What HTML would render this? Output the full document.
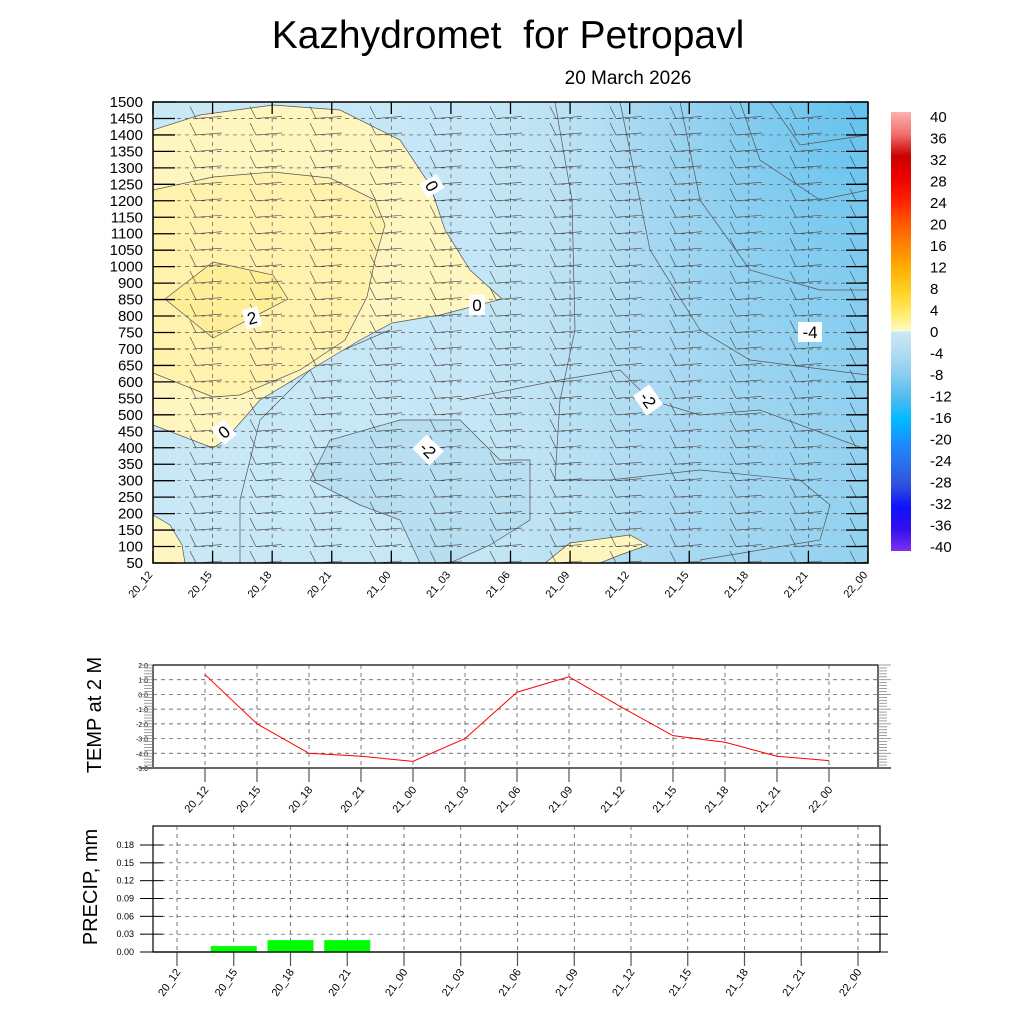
<!DOCTYPE html>
<html><head><meta charset="utf-8"><style>
body{margin:0;background:#fff;}
svg{display:block;font-family:"Liberation Sans",sans-serif;}
</style></head><body>
<svg id="chart" width="1024" height="1024" viewBox="0 0 1024 1024">
<text x="508" y="48" font-size="39" text-anchor="middle" xml:space="preserve" style="white-space:pre">Kazhydromet  for Petropavl</text>
<text x="628" y="84" font-size="19" text-anchor="middle">20 March 2026</text>
<defs>
<linearGradient id="blueg" x1="0" y1="0" x2="1" y2="0">
<stop offset="0" stop-color="#c6e7f6" stop-opacity="0"/>
<stop offset="0.45" stop-color="#c0e4f5" stop-opacity="0.5"/>
<stop offset="0.7" stop-color="#acdaf2"/>
<stop offset="1" stop-color="#92d1f0"/>
</linearGradient>
<radialGradient id="blueg2" cx="1" cy="0" r="0.75" gradientUnits="objectBoundingBox">
<stop offset="0" stop-color="#5fc0ee" stop-opacity="0.95"/>
<stop offset="1" stop-color="#7ccaef" stop-opacity="0"/>
</radialGradient>
<linearGradient id="cbar" x1="0" y1="0" x2="0" y2="1">
<stop offset="0" stop-color="#ffb0b0"/><stop offset="0.05" stop-color="#f07070"/>
<stop offset="0.1" stop-color="#cc0000"/><stop offset="0.15" stop-color="#ee0000"/>
<stop offset="0.2" stop-color="#ff2000"/><stop offset="0.25" stop-color="#ff5500"/>
<stop offset="0.3" stop-color="#ff8000"/><stop offset="0.35" stop-color="#ffaa00"/>
<stop offset="0.42" stop-color="#ffd830"/><stop offset="0.47" stop-color="#fff080"/>
<stop offset="0.5" stop-color="#fffad0"/><stop offset="0.5" stop-color="#cce8f5"/>
<stop offset="0.55" stop-color="#b0dcf0"/><stop offset="0.6" stop-color="#88ccf0"/>
<stop offset="0.65" stop-color="#50bbee"/><stop offset="0.7" stop-color="#00bbff"/>
<stop offset="0.75" stop-color="#1a90ff"/><stop offset="0.8" stop-color="#2a70ee"/>
<stop offset="0.85" stop-color="#3050dd"/><stop offset="0.9" stop-color="#1010ff"/>
<stop offset="0.95" stop-color="#3010ee"/><stop offset="1" stop-color="#8030f0"/>
</linearGradient>
<clipPath id="pclip"><rect x="153" y="102" width="715" height="461"/></clipPath>
</defs>
<g id="contour" clip-path="url(#pclip)">
<rect x="153" y="102" width="715" height="461" fill="#c8e8f6"/>
<rect x="153" y="102" width="715" height="461" fill="url(#blueg)"/>
<rect x="500" y="102" width="368" height="461" fill="url(#blueg2)"/>
<g fill="none" stroke="#555" stroke-width="0.7">
<polygon points="310,480 330,440 400,420 460,420 500,460 530,460 530,520 490,545 450,563 420,563 400,520 360,505" fill="#b8def2"/>
<polyline points="555,102 572,200 575,330 560,400 555,480 610,480 700,470 800,480 830,505 820,540 700,560"/>
<polyline points="620,102 650,250 700,330 750,360 868,375"/>
<polyline points="680,102 700,200 750,270 820,290 868,290"/>
<polyline points="770,102 800,145 868,135"/>
<polyline points="740,102 760,160 820,200 868,190"/>
<polyline points="460,400 560,380 620,370 650,400 700,415 760,410 868,450"/>
<polyline points="240,563 240,500 260,420 320,360 390,330"/>
</g>
<g stroke="#555" stroke-width="0.7">
<polygon points="153,130 200,115 273,105 340,110 400,140 430,185 445,230 470,270 502,299 440,315 392,323 360,340 310,370 260,400 225,440 213,448 153,425" fill="#fff6bf"/>
<polygon points="153,190 213,177 273,172 330,178 375,200 385,225 375,260 367,297 345,340 300,370 240,395 213,397 153,373" fill="#fff2ac"/>
<polygon points="165,299 213,262 273,275 288,299 213,338" fill="#ffee98"/>
<polygon points="153,515 170,525 182,545 185,563 153,563" fill="#fff6bf"/>
<polygon points="545,563 570,543 630,535 648,545 620,555 600,563" fill="#fff6bf"/>
</g>
<g id="grid"></g>
<g id="barbs"></g>
<g font-size="17" text-anchor="middle">
<g transform="translate(432,186) rotate(60)"><rect x="-8" y="-10" width="16" height="20" fill="#fff"/><text y="6">0</text></g>
<g transform="translate(477,305)"><rect x="-8" y="-10" width="16" height="20" fill="#fff"/><text y="6">0</text></g>
<g transform="translate(252,318) rotate(-15)"><rect x="-8" y="-10" width="16" height="20" fill="#fff"/><text y="6">2</text></g>
<g transform="translate(224,432) rotate(-40)"><rect x="-8" y="-10" width="16" height="20" fill="#fff"/><text y="6">0</text></g>
<g transform="translate(428,450) rotate(45)"><rect x="-12" y="-10" width="24" height="20" fill="#fff"/><text y="6">-2</text></g>
<g transform="translate(648,400) rotate(55)"><rect x="-12" y="-10" width="24" height="20" fill="#fff"/><text y="6">-2</text></g>
<g transform="translate(810,332)"><rect x="-12" y="-10" width="24" height="20" fill="#fff"/><text y="6">-4</text></g>
</g>
</g>
<rect x="153" y="102" width="715" height="461" fill="none" stroke="#000" stroke-width="1.5"/>
<g id="caxes"></g>
<rect x="891" y="112" width="20" height="439" fill="url(#cbar)"/>
<g id="cbarlabels" font-size="15"></g>
<g id="temp"></g>
<g id="precip"></g>
</svg>
<script>
const NS="http://www.w3.org/2000/svg";
function mk(tag,attrs,parent,txt){const e=document.createElementNS(NS,tag);for(const k in attrs)e.setAttribute(k,attrs[k]);if(txt!==undefined)e.textContent=txt;parent.appendChild(e);return e;}
const times=["20_12","20_15","20_18","20_21","21_00","21_03","21_06","21_09","21_12","21_15","21_18","21_21","22_00"];
const levels=[50,100,150,200,250,300,350,400,450,500,550,600,650,700,750,800,850,900,1000,1050,1100,1150,1200,1250,1300,1350,1400,1450,1500];
const tempValues=[1.35,-2.0,-4.0,-4.2,-4.55,-3.0,0.15,1.2,-0.85,-2.8,-3.25,-4.2,-4.5];
const tempTicks=[2,1,0,-1,-2,-3,-4,-5];
const precipValues=[0,0.01,0.02,0.02,0,0,0,0,0,0,0,0,0];
const precipTicks=[0,0.03,0.06,0.09,0.12,0.15,0.18];
const cbarTicks=[40,36,32,28,24,20,16,12,8,4,0,-4,-8,-12,-16,-20,-24,-28,-32,-36,-40];

const cx=i=>153+i*(715/12);
const cy=i=>563-i*(461/(levels.length-1));
const grid=document.getElementById('grid'),ca=document.getElementById('caxes'),barbs=document.getElementById('barbs');
levels.forEach((l,i)=>{
  const y=cy(i);
  mk('line',{x1:153,x2:868,y1:y,y2:y,stroke:'#555','stroke-width':0.7,'stroke-dasharray':'4,4'},grid);
  mk('line',{x1:153,x2:175,y1:y,y2:y,stroke:'#000','stroke-width':1.3},ca);
  mk('line',{x1:846,x2:868,y1:y,y2:y,stroke:'#000','stroke-width':1.3},ca);
  const t=mk('text',{x:143,y:y+5,'font-size':15,'text-anchor':'end'},ca,String(l));
  
  
  for(let k=0;k<12;k++){
    const x=190+60*k;
    mk('path',{d:`M${x},${y-12} L${x+6},${y} L${x+32},${y-2}`,stroke:'#444','stroke-width':0.6,fill:'none'},barbs);
  }
});
times.forEach((t,i)=>{
  const x=cx(i);
  mk('line',{x1:x,x2:x,y1:102,y2:563,stroke:'#555','stroke-width':0.7,'stroke-dasharray':'4,4'},grid);
  mk('line',{x1:x,x2:x,y1:102,y2:114,stroke:'#000','stroke-width':1.3},ca);
  mk('line',{x1:x,x2:x,y1:551,y2:563,stroke:'#000','stroke-width':1.3},ca);
  const e=mk('text',{x:x,y:575,'font-size':11,'text-anchor':'end',transform:`rotate(-50 ${x} 575)`},ca,t);
  
  
});
const cbl=document.getElementById('cbarlabels');
cbarTicks.forEach((v,i)=>{
  const e=mk('text',{x:930,y:117+i*21.5+5},cbl,String(v));
  
  
});

const tg=document.getElementById('temp');
const tx=i=>205+i*52;
const ty=v=>665+(2-v)*(103/7);
mk('rect',{x:153,y:665,width:725,height:103,fill:'none',stroke:'#000','stroke-width':1.2},tg);
tempTicks.forEach(v=>{
  const y=ty(v);
  if(v>-5&&v<2)mk('line',{x1:153,x2:878,y1:y,y2:y,stroke:'#444','stroke-width':0.7,'stroke-dasharray':'4,4'},tg);
  const e=mk('text',{x:148,y:y+3,'font-size':7,'text-anchor':'end'},tg,v.toFixed(1));
  
  
  for(let m=0;m<5&&v>-5;m++){const yy=y+m*(103/7)/5;mk('line',{x1:m?144:140,x2:153,y1:yy,y2:yy,stroke:'#888','stroke-width':0.8},tg);mk('line',{x1:878,x2:m?887:891,y1:yy,y2:yy,stroke:'#888','stroke-width':0.8},tg);}
});
mk('line',{x1:140,x2:891,y1:768,y2:768,stroke:'#666','stroke-width':2},tg);
times.forEach((t,i)=>{
  const x=tx(i);
  mk('line',{x1:x,x2:x,y1:665,y2:768,stroke:'#444','stroke-width':0.7,'stroke-dasharray':'4,4'},tg);
  mk('line',{x1:x,x2:x,y1:768,y2:782,stroke:'#555','stroke-width':1.2},tg);
  const e=mk('text',{x:x+4,y:790,'font-size':11,'text-anchor':'end',transform:`rotate(-50 ${x+4} 790)`},tg,t);
  
  
});
const tl=mk('polyline',{points:tempValues.map((v,i)=>tx(i)+','+ty(v)).join(' '),fill:'none',stroke:'#ff0000','stroke-width':1},tg);


const tt=mk('text',{x:0,y:0,'font-size':20,'text-anchor':'middle',transform:'translate(101,715) rotate(-90)'},tg,'TEMP at 2 M');



const pg=document.getElementById('precip');
const px=i=>177+i*(681/12);
const py=v=>952-v*(107/0.18);
mk('rect',{x:153,y:826,width:727,height:126,fill:'none',stroke:'#000','stroke-width':1.2},pg);
precipTicks.forEach(v=>{
  const y=py(v);
  if(v>0)mk('line',{x1:153,x2:880,y1:y,y2:y,stroke:'#444','stroke-width':0.7,'stroke-dasharray':'4,4'},pg);
  mk('line',{x1:153,x2:163,y1:y,y2:y,stroke:'#000','stroke-width':1},pg);
  mk('line',{x1:140,x2:153,y1:y,y2:y,stroke:'#000','stroke-width':1},pg);
  mk('line',{x1:870,x2:888,y1:y,y2:y,stroke:'#000','stroke-width':1},pg);
  const e=mk('text',{x:134,y:y+3,'font-size':9,'text-anchor':'end'},pg,v.toFixed(2));
  
  
});
times.forEach((t,i)=>{
  const x=px(i);
  mk('line',{x1:x,x2:x,y1:826,y2:952,stroke:'#444','stroke-width':0.7,'stroke-dasharray':'4,4'},pg);
  mk('line',{x1:x,x2:x,y1:952,y2:966,stroke:'#555','stroke-width':1.2},pg);
  const e=mk('text',{x:x+4,y:972,'font-size':11,'text-anchor':'end',transform:`rotate(-55 ${x+4} 972)`},pg,t);
  
  
});
precipValues.forEach((v,i)=>{
  const b=mk('rect',{x:px(i)-23,y:py(v),width:46,height:952-py(v),fill:'#00ff00'},pg);
  
  
});
mk('line',{x1:153,x2:880,y1:952,y2:952,stroke:'#000','stroke-width':1.2},pg);
const pt=mk('text',{x:0,y:0,'font-size':20,'text-anchor':'middle',transform:'translate(97,887) rotate(-90)'},pg,'PRECIP, mm');


</script>
</body></html>
